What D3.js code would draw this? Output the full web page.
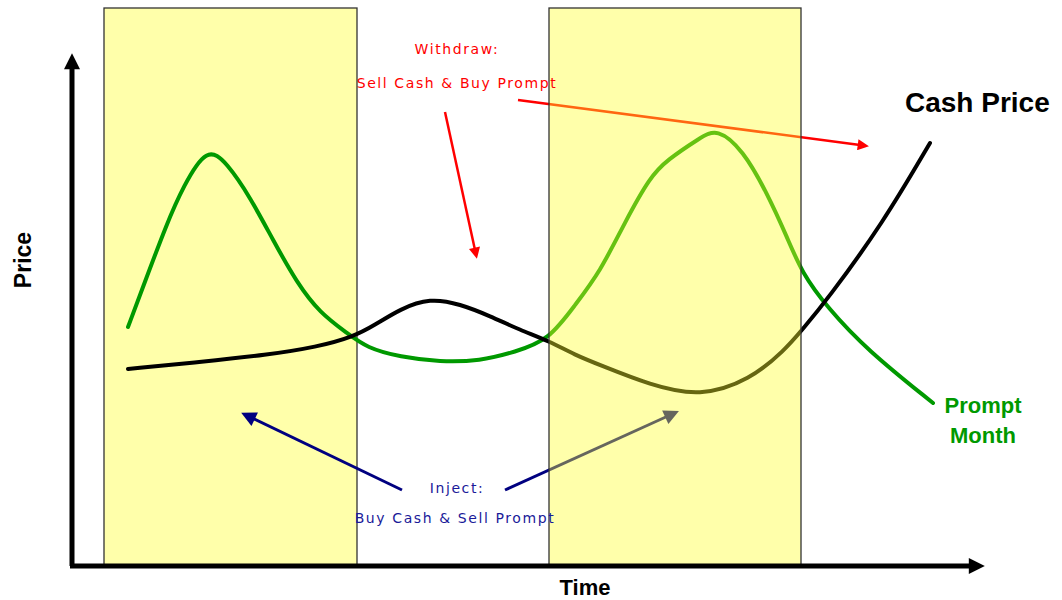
<!doctype html>
<html>
<head>
<meta charset="utf-8" />
<script src="https://d3js.org/d3.v7.min.js"></script>
<style>
  body { margin: 0; background: #fff; }
  text { font-family: "Liberation Sans", Arial, sans-serif; }
  .note { font-family: "DejaVu Sans", Verdana, sans-serif; font-size: 14px; }
</style>
</head>
<body>
<div id="chart"></div>
<script>

// time / price in chart units
var greenT = [56, 71, 95, 111, 135, 155, 178, 201, 225, 248, 275, 295, 328, 368, 408, 443, 477, 503, 528, 553, 578, 595, 628, 645, 671, 695, 715, 730, 755, 795, 861];
var greenP = [239, 279, 343, 379, 420, 403, 369, 326, 283, 253, 233, 218, 209, 204, 205, 214, 226, 261, 294, 344, 389, 406, 428, 438, 416, 373, 329, 293, 259, 216, 163];

var cashT = [56, 128, 195, 245, 281, 303, 328, 358, 388, 418, 448, 477, 503, 528, 578, 628, 678, 713, 730, 755, 811, 858];
var cashP = [197, 204, 211, 219, 229, 241, 257, 268, 262, 250, 236, 225, 211, 201, 181, 169, 186, 216, 236, 266, 343, 423];

// storage windows (injection / withdrawal periods)
var windows = [[32, 285], [477, 729]];

// annotation arrows [t0, p0, t1, p1]
var redArrows = [[373, 454, 403, 316], [446, 466, 788, 421]];
var blueArrows = [[330, 76, 180, 148], [433, 76, 596, 150]];

var width = 1062, height = 600;

var svg = d3.select("#chart").append("svg")
  .attr("width", width).attr("height", height);

svg.append("defs").selectAll("marker")
  .data([["red", "#ff0000", 8, 4.5], ["blue", "#000080", 9, 5], ["axis", "#000", 4, 3.2]])
  .enter().append("marker")
  .attr("id", d => "head-" + d[0])
  .attr("viewBox", "0 0 10 10")
  .attr("refX", 2).attr("refY", 5)
  .attr("markerUnits", "strokeWidth")
  .attr("markerWidth", d => d[2]).attr("markerHeight", d => d[3])
  .attr("orient", "auto")
  .append("path")
  .attr("d", "M0,0 L10,5 L0,10 Z")
  .attr("fill", d => d[1]);

var x = d3.scaleLinear().domain([0, 910]).range([72, 982]);
var y = d3.scaleLinear().domain([0, 520]).range([566, 46]);

var line = d3.line()
  .x(d => x(d[0])).y(d => y(d[1]))
  .curve(d3.curveBasis);

function drawWindow(w, front) {
  svg.append("rect")
    .attr("x", x(w[0])).attr("y", y(558))
    .attr("width", x(w[1]) - x(w[0])).attr("height", y(0) - y(558))
    .attr("fill", front ? "#ffff2a" : "#ffffaa")
    .attr("fill-opacity", front ? 0.4 : 1)
    .attr("stroke", "#333").attr("stroke-width", 1.3);
}

// first window sits behind the curves
drawWindow(windows[0], false);

// arrows
function arrow(a, color, id, w) {
  svg.append("line")
    .attr("x1", x(a[0])).attr("y1", y(a[1]))
    .attr("x2", x(a[2])).attr("y2", y(a[3]))
    .attr("stroke", color).attr("stroke-width", w)
    .attr("marker-end", "url(#head-" + id + ")");
}
redArrows.forEach(a => arrow(a, "#ff0000", "red", 2.5));
blueArrows.forEach(a => arrow(a, "#000080", "blue", 3));

// curves
svg.append("path")
  .attr("d", line(d3.zip(greenT, greenP)))
  .attr("fill", "none").attr("stroke", "#009900").attr("stroke-width", 4)
  .attr("stroke-linecap", "round");
svg.append("path")
  .attr("d", line(d3.zip(cashT, cashP)))
  .attr("fill", "none").attr("stroke", "#000").attr("stroke-width", 4)
  .attr("stroke-linecap", "round");

// second window on top, semi transparent
drawWindow(windows[1], true);

// axes with arrow heads
svg.append("line")
  .attr("x1", x(0)).attr("y1", y(0)).attr("x2", x(0)).attr("y2", y(500))
  .attr("stroke", "#000").attr("stroke-width", 5)
  .attr("marker-end", "url(#head-axis)");
svg.append("line")
  .attr("x1", x(0) - 2).attr("y1", y(0)).attr("x2", x(900)).attr("y2", y(0))
  .attr("stroke", "#000").attr("stroke-width", 5)
  .attr("marker-end", "url(#head-axis)");

// axis titles
svg.append("text")
  .attr("transform", "translate(31," + 260 + ") rotate(-90)")
  .attr("text-anchor", "middle")
  .style("font-weight", "bold").style("font-size", "23px")
  .text("Price");
svg.append("text")
  .attr("x", 585).attr("y", 595)
  .attr("text-anchor", "middle")
  .style("font-weight", "bold").style("font-size", "22px")
  .text("Time");

// series labels
svg.append("text")
  .attr("x", 905).attr("y", 112)
  .style("font-weight", "bold").style("font-size", "28px")
  .text("Cash Price");
svg.append("text")
  .attr("x", 983).attr("y", 413)
  .attr("text-anchor", "middle")
  .attr("fill", "#009900")
  .style("font-weight", "bold").style("font-size", "22px")
  .text("Prompt");
svg.append("text")
  .attr("x", 983).attr("y", 443)
  .attr("text-anchor", "middle")
  .attr("fill", "#009900")
  .style("font-weight", "bold").style("font-size", "22px")
  .text("Month");

// notes
var notes = [
  ["Withdraw:", 457, 54, "#ff0000"],
  ["Sell Cash & Buy Prompt", 457, 88, "#ff0000"],
  ["Inject:", 457, 493, "#1a1a99"],
  ["Buy Cash & Sell Prompt", 455, 523, "#1a1a99"]
];
svg.selectAll("text.note").data(notes).enter().append("text")
  .attr("class", "note")
  .attr("x", d => d[1]).attr("y", d => d[2])
  .attr("text-anchor", "middle")
  .attr("fill", d => d[3])
  .style("letter-spacing", "1.6px")
  .text(d => d[0]);

</script>
</body>
</html>
